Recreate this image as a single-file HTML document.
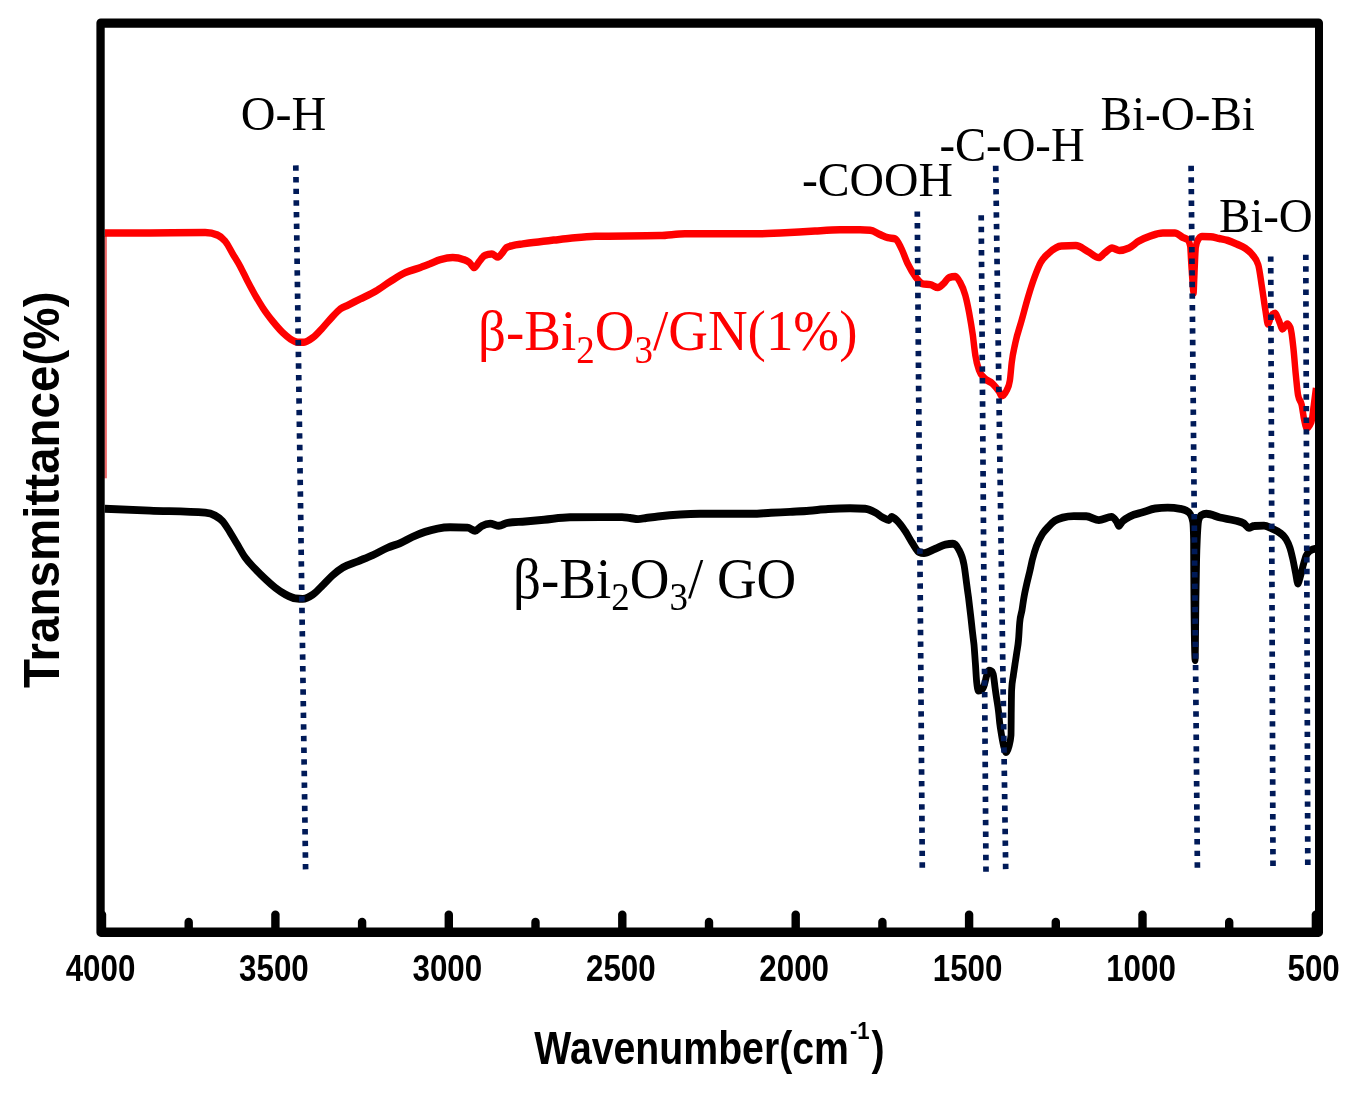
<!DOCTYPE html>
<html lang="en"><head><meta charset="utf-8"><title>FTIR spectra</title>
<style>
html,body{margin:0;padding:0;background:#fff}
body{width:1358px;height:1098px;overflow:hidden}
svg{display:block}
.ser{font-family:"Liberation Serif",serif}
.san{font-family:"Liberation Sans",sans-serif;font-weight:bold}
</style></head><body>
<svg width="1358" height="1098" viewBox="0 0 1358 1098">
<rect width="1358" height="1098" fill="#fff"/>
<line x1="105.6" y1="236" x2="105.6" y2="478.3" stroke="#ee6a6a" stroke-width="2.6"/>
<g transform="scale(0.86 1)" fill="none" stroke-linejoin="round" stroke-linecap="butt">
<path d="M121.7 233.1C139.3 233.1 156.9 233.1 174.4 233.0C195.8 232.9 217.2 232.6 238.6 232.6C243.4 232.6 248.3 233.4 253.1 235.1C256.0 236.1 259.0 238.2 261.9 241.3C264.8 244.4 267.7 249.6 270.6 253.8C273.5 258.0 276.4 261.8 279.3 266.4C282.2 271.0 285.1 276.6 288.0 281.4C290.9 286.2 293.8 290.8 296.7 295.2C299.7 299.6 302.6 303.9 305.5 307.7C309.4 312.9 313.3 317.2 317.2 321.4C321.1 325.5 325.0 329.5 328.8 332.7C331.7 335.1 334.7 337.4 337.6 339.0C340.5 340.6 343.4 342.2 346.3 342.2C348.7 342.2 351.1 342.2 353.5 342.2C356.9 342.2 360.3 339.9 363.7 337.7C367.6 335.2 371.5 331.2 375.3 327.7C379.2 324.1 383.1 319.9 387.0 316.4C389.9 313.7 392.9 310.8 395.8 308.9C398.7 307.1 401.6 306.4 404.5 305.2C409.4 303.1 414.2 301.0 419.1 298.9C424.9 296.4 430.7 294.3 436.5 291.4C442.3 288.5 448.1 284.5 454.0 281.4C459.8 278.3 465.7 274.9 471.5 272.6C477.3 270.3 483.1 269.4 489.0 267.5C492.6 266.3 496.3 265.0 500.0 263.8C504.0 262.4 508.0 260.7 512.0 259.7C516.8 258.5 521.6 257.6 526.4 257.6C530.8 257.6 535.2 258.3 539.5 259.7C541.6 260.3 543.6 261.0 545.6 262.3C547.6 263.6 549.5 267.6 551.5 267.6C553.5 267.6 555.5 263.2 557.6 261.2C559.5 259.2 561.5 256.3 563.5 255.6C566.3 254.5 569.1 254.0 572.0 254.0C574.3 254.0 576.7 257.1 579.1 257.1C580.7 257.1 582.3 254.6 584.0 253.0C585.5 251.5 587.1 248.8 588.7 247.8C591.1 246.3 593.5 246.2 595.9 245.6C599.9 244.6 603.9 244.4 607.9 243.9C611.9 243.4 615.9 242.9 619.9 242.5C623.9 242.1 627.9 241.7 631.9 241.3C635.9 240.9 639.8 240.5 643.8 240.1C650.2 239.5 656.5 238.8 662.8 238.3C672.5 237.5 682.2 236.5 691.9 236.3C717.1 235.8 742.2 236.1 767.4 235.6C777.1 235.4 786.8 233.8 796.5 233.8C824.4 233.8 852.3 233.8 880.2 233.8C889.1 233.8 898.1 233.3 907.0 233.0C914.3 232.7 921.7 232.4 929.1 232.0C935.3 231.7 941.5 231.3 947.7 231.0C957.4 230.5 967.1 229.8 976.7 229.8C984.5 229.8 992.2 229.8 1000.0 229.8C1004.0 229.8 1007.9 230.0 1011.9 230.3C1015.7 230.6 1019.6 233.2 1023.5 234.6C1026.4 235.6 1029.3 236.9 1032.2 237.6C1035.1 238.3 1038.0 238.0 1040.9 238.8C1043.4 239.5 1045.8 244.6 1048.3 248.8C1050.7 253.0 1053.1 259.6 1055.6 263.9C1058.5 269.1 1061.4 273.1 1064.3 276.4C1067.2 279.7 1070.1 283.4 1073.0 283.9C1075.9 284.4 1078.8 284.1 1081.7 284.6C1084.7 285.1 1087.6 287.6 1090.5 287.6C1092.9 287.6 1095.3 285.0 1097.7 283.1C1099.6 281.5 1101.6 278.2 1103.5 277.6C1105.9 276.8 1108.4 276.4 1110.8 276.4C1112.8 276.4 1114.7 279.5 1116.6 282.6C1118.6 285.7 1120.5 289.0 1122.4 295.2C1123.9 299.9 1125.4 305.9 1126.9 312.7C1128.3 319.3 1129.7 326.3 1131.2 335.2C1132.1 341.2 1133.1 349.9 1134.1 355.2C1135.5 363.3 1137.0 366.6 1138.5 370.3C1140.4 375.1 1142.4 375.8 1144.3 377.8C1147.7 381.4 1151.1 381.0 1154.5 384.0C1156.9 386.1 1159.3 388.4 1161.7 391.6C1162.7 392.9 1163.7 395.8 1164.7 395.8C1166.6 395.8 1168.6 394.0 1170.6 390.3C1171.8 388.0 1173.1 387.0 1174.3 380.3C1175.0 376.5 1175.7 367.8 1176.4 362.8C1177.8 352.5 1179.3 348.6 1180.7 342.7C1183.1 332.7 1185.6 327.8 1188.0 320.2C1190.4 312.8 1192.8 304.7 1195.2 297.7C1197.8 290.3 1200.3 283.3 1202.9 277.3C1205.3 271.7 1207.7 266.3 1210.1 262.5C1213.2 257.6 1216.2 255.8 1219.3 253.3C1224.3 249.3 1229.2 246.2 1234.2 246.0C1239.8 245.7 1245.4 245.6 1251.0 245.6C1255.7 245.6 1260.4 249.5 1265.1 251.6C1269.3 253.5 1273.5 257.6 1277.7 257.6C1280.0 257.6 1282.4 254.3 1284.8 252.8C1287.6 251.0 1290.3 248.0 1293.1 248.0C1296.0 248.0 1298.8 250.4 1301.6 250.4C1305.3 250.4 1309.1 249.5 1312.8 248.0C1316.6 246.5 1320.3 243.1 1324.1 241.2C1328.8 238.8 1333.4 237.3 1338.1 235.9C1342.8 234.5 1347.5 233.0 1352.2 233.0C1356.9 233.0 1361.5 233.0 1366.2 233.0C1369.3 233.0 1372.4 236.2 1375.5 237.5C1377.2 238.2 1379.0 238.2 1380.8 239.5C1381.9 240.3 1382.9 241.7 1384.0 246.0C1384.3 247.6 1384.7 256.8 1385.1 262.0C1385.6 268.2 1386.0 274.8 1386.5 280.0C1387.0 285.2 1387.4 293.0 1387.9 293.0C1388.1 293.0 1388.4 284.4 1388.6 280.0C1388.9 274.1 1389.2 267.5 1389.5 262.0C1389.8 256.5 1390.2 248.6 1390.5 247.0C1391.5 241.7 1392.6 240.2 1393.6 239.0C1395.0 237.4 1396.3 236.6 1397.7 236.6C1401.0 236.6 1404.3 236.7 1407.7 236.8C1411.0 236.9 1414.3 237.9 1417.7 238.5C1421.0 239.1 1424.4 239.6 1427.8 240.5C1431.1 241.4 1434.5 242.7 1437.8 244.0C1441.2 245.3 1444.5 246.2 1447.9 248.3C1450.6 250.0 1453.3 251.4 1456.0 254.5C1458.4 257.2 1460.8 258.0 1463.1 264.9C1464.5 269.0 1465.9 278.9 1467.3 286.6C1468.7 294.2 1470.1 303.6 1471.5 310.8C1472.4 315.6 1473.4 324.1 1474.3 324.1C1475.7 324.1 1477.1 317.2 1478.5 315.6C1479.9 314.0 1481.4 313.2 1482.8 313.2C1484.2 313.2 1485.6 317.8 1487.0 320.4C1488.4 323.0 1489.8 328.9 1491.2 328.9C1493.0 328.9 1494.9 324.1 1496.7 324.1C1498.0 324.1 1499.2 325.3 1500.5 327.7C1501.6 329.9 1502.7 338.2 1503.8 347.0C1504.8 354.3 1505.7 365.5 1506.6 373.6C1507.6 381.6 1508.5 391.0 1509.4 395.3C1510.8 401.8 1512.2 399.4 1513.6 405.0C1514.5 408.8 1515.5 415.7 1516.4 419.5C1517.3 423.3 1518.3 427.9 1519.2 427.9C1521.1 427.9 1523.0 425.9 1524.9 421.9C1525.8 419.9 1526.7 410.9 1527.7 405.0C1528.5 399.6 1529.4 393.8 1530.2 388.0" stroke="#fe0000" stroke-width="7.5"/>
<path d="M121.7 508.8C139.3 509.4 156.9 510.0 174.4 510.6C195.8 511.3 217.2 511.3 238.6 512.6C242.5 512.8 246.4 513.7 250.2 515.6C253.1 517.0 256.0 518.5 259.0 521.3C261.9 524.1 264.8 528.6 267.7 532.6C270.6 536.6 273.5 540.9 276.4 545.1C279.3 549.3 282.2 554.0 285.1 557.6C289.0 562.4 292.9 565.4 296.7 568.9C300.6 572.4 304.5 575.8 308.4 578.9C312.3 582.1 316.2 585.1 320.1 587.7C324.0 590.3 327.9 592.6 331.7 594.4C335.6 596.2 339.5 598.0 343.4 598.4C346.3 598.7 349.2 598.9 352.1 598.9C356.0 598.9 359.8 597.0 363.7 594.7C367.6 592.4 371.5 588.5 375.3 585.2C379.2 582.0 383.1 578.1 387.0 575.2C390.9 572.2 394.8 569.7 398.7 567.6C404.5 564.5 410.3 563.5 416.2 561.4C422.0 559.3 427.8 557.4 433.6 555.1C439.4 552.8 445.2 549.7 451.0 547.6C455.7 545.9 460.4 544.9 465.1 543.2C470.0 541.4 474.8 538.8 479.7 536.9C484.5 535.0 489.3 533.3 494.2 531.9C499.1 530.5 504.0 529.4 508.8 528.6C513.6 527.8 518.4 527.3 523.3 527.3C530.1 527.3 536.9 527.4 543.7 527.6C546.6 527.7 549.5 530.7 552.4 530.7C554.9 530.7 557.3 527.4 559.8 526.3C563.1 524.7 566.5 523.6 569.9 523.6C573.3 523.6 576.7 525.7 580.1 525.7C583.5 525.7 586.9 523.2 590.3 522.8C597.1 521.9 603.9 522.0 610.7 521.5C618.0 521.0 625.3 520.4 632.6 519.8C642.6 519.0 652.7 517.4 662.8 517.3C674.4 517.2 686.0 517.1 697.7 517.1C706.2 517.1 714.7 517.1 723.3 517.1C726.4 517.1 729.5 517.7 732.6 518.0C735.7 518.3 738.8 519.1 741.9 519.1C745.0 519.1 748.1 518.4 751.2 518.0C755.8 517.5 760.5 516.9 765.1 516.5C781.4 514.9 797.7 513.8 814.0 513.8C834.1 513.8 854.3 513.8 874.4 513.8C881.8 513.8 889.1 513.1 896.5 512.8C903.9 512.5 911.2 512.2 918.6 511.9C926.0 511.5 933.3 511.2 940.7 510.7C948.1 510.2 955.4 509.4 962.8 509.0C971.3 508.5 979.8 508.2 988.4 508.2C994.3 508.2 1000.2 508.4 1006.0 508.8C1009.9 509.1 1013.8 510.7 1017.7 512.5C1020.6 513.8 1023.5 516.2 1026.4 517.5C1028.8 518.6 1031.3 520.0 1033.7 520.0C1034.7 520.0 1035.7 517.0 1036.6 517.0C1039.0 517.0 1041.4 519.3 1043.8 521.3C1046.8 523.8 1049.7 527.5 1052.7 531.3C1055.6 535.0 1058.5 540.1 1061.4 543.8C1063.8 546.9 1066.2 551.3 1068.6 552.1C1070.5 552.8 1072.5 553.1 1074.4 553.1C1078.8 553.1 1083.2 550.3 1087.6 548.8C1091.4 547.5 1095.3 545.3 1099.2 544.6C1102.1 544.1 1105.0 543.8 1107.9 543.8C1110.3 543.8 1112.8 545.9 1115.2 550.1C1117.2 553.4 1119.1 555.4 1121.0 565.1C1122.1 570.4 1123.1 578.3 1124.2 585.0C1124.8 589.2 1125.5 593.2 1126.2 597.6C1127.0 603.1 1127.8 608.9 1128.6 615.0C1129.5 621.4 1130.3 628.7 1131.2 635.0C1131.6 638.4 1132.1 640.7 1132.6 645.0C1133.1 650.0 1133.6 657.1 1134.2 663.7C1134.7 669.3 1135.1 677.4 1135.6 681.4C1136.3 687.5 1137.0 690.5 1137.7 690.5C1138.7 690.5 1139.7 690.3 1140.7 690.0C1142.0 689.6 1143.3 688.2 1144.5 685.0C1145.5 682.7 1146.4 677.9 1147.3 675.5C1148.2 673.2 1149.1 670.8 1150.0 670.8C1151.0 670.8 1151.9 671.0 1152.9 671.5C1153.6 671.8 1154.2 672.4 1154.9 674.3C1155.6 676.3 1156.3 683.0 1157.0 687.3C1157.6 691.3 1158.3 695.4 1159.0 699.2C1159.7 703.3 1160.3 705.9 1161.0 711.0C1161.5 714.4 1162.0 719.4 1162.4 722.8C1163.1 727.9 1163.8 731.1 1164.5 734.7C1165.4 739.3 1166.3 743.6 1167.2 746.5C1168.1 749.3 1168.9 752.0 1169.8 752.0C1170.9 752.0 1172.1 750.0 1173.3 746.0C1174.0 743.3 1174.8 742.3 1175.6 735.0C1175.7 733.9 1175.8 718.5 1175.9 711.0C1176.0 703.5 1176.2 691.7 1176.3 690.0C1176.9 680.3 1177.6 679.8 1178.3 675.5C1179.0 671.0 1179.7 667.7 1180.3 663.7C1181.0 659.8 1181.7 656.0 1182.4 651.8C1183.1 648.1 1183.7 646.1 1184.3 640.0C1184.8 635.4 1185.2 627.0 1185.7 622.6C1186.6 614.2 1187.5 614.6 1188.4 610.0C1189.1 606.2 1189.8 601.3 1190.6 597.6C1191.6 592.6 1192.6 588.9 1193.6 585.0C1194.8 580.5 1195.9 576.8 1197.1 572.5C1198.2 568.5 1199.3 563.7 1200.3 560.0C1201.9 554.6 1203.4 550.3 1205.0 546.5C1207.4 540.6 1209.8 537.2 1212.2 533.8C1214.7 530.4 1217.1 528.5 1219.5 526.3C1221.9 524.1 1224.3 522.1 1226.7 520.7C1229.7 519.0 1232.6 518.3 1235.5 517.6C1239.8 516.6 1244.2 516.1 1248.6 516.1C1253.4 516.1 1258.3 516.2 1263.1 516.3C1268.0 516.4 1272.9 520.1 1277.8 520.1C1282.6 520.1 1287.5 516.9 1292.3 516.9C1294.3 516.9 1296.2 518.9 1298.1 521.3C1299.1 522.5 1300.1 525.7 1301.0 525.7C1302.5 525.7 1303.9 522.6 1305.3 521.3C1308.3 518.8 1311.2 517.6 1314.1 516.3C1319.0 514.0 1323.8 513.6 1328.7 512.3C1333.6 511.0 1338.4 509.1 1343.3 508.5C1348.1 507.9 1352.9 507.6 1357.8 507.6C1362.6 507.6 1367.5 508.0 1372.3 508.8C1374.8 509.2 1377.2 509.5 1379.7 510.8C1381.2 511.6 1382.8 512.0 1384.3 514.5C1385.2 515.9 1386.1 517.0 1387.0 522.0C1387.3 523.7 1387.6 528.0 1387.9 540.0C1388.0 544.5 1388.1 590.0 1388.3 600.0C1388.7 640.0 1389.2 660.0 1389.7 660.0C1389.8 660.0 1390.0 650.0 1390.1 640.0C1390.3 630.0 1390.4 611.3 1390.6 600.0C1390.9 580.3 1391.1 570.3 1391.4 560.0C1391.7 546.7 1392.1 541.3 1392.4 535.0C1392.9 527.3 1393.3 522.7 1393.7 521.0C1394.7 517.3 1395.6 516.0 1396.5 515.5C1398.6 514.4 1400.6 513.8 1402.7 513.8C1408.0 513.8 1413.3 516.4 1418.6 517.5C1424.4 518.7 1430.2 519.1 1436.0 520.5C1439.5 521.4 1443.0 521.5 1446.5 523.5C1448.4 524.6 1450.4 527.8 1452.3 527.8C1454.3 527.8 1456.2 526.1 1458.1 526.0C1462.0 525.7 1465.9 525.6 1469.8 525.6C1472.9 525.6 1476.0 527.4 1479.1 528.6C1482.2 529.8 1485.3 530.8 1488.4 533.0C1490.7 534.6 1493.0 535.5 1495.3 539.0C1496.9 541.3 1498.4 543.7 1500.0 548.0C1501.2 551.2 1502.3 555.5 1503.5 560.0C1504.5 563.9 1505.5 568.8 1506.5 573.0C1507.4 576.6 1508.2 583.5 1509.1 583.5C1509.9 583.5 1510.8 580.3 1511.6 578.0C1512.8 574.9 1514.0 569.7 1515.1 566.0C1516.3 562.3 1517.4 558.5 1518.6 556.0C1520.2 552.7 1521.7 551.5 1523.3 550.6C1525.6 549.3 1527.9 548.9 1530.2 548.6" stroke="#000" stroke-width="7.9"/>
</g>
<g stroke="#001a58" stroke-width="5.7" fill="none">
<line x1="295.8" y1="165.4" x2="305.6" y2="869.4" stroke-dasharray="5.400 6.244"/>
<line x1="917.3" y1="211.4" x2="922.3" y2="867.7" stroke-dasharray="5.400 6.224"/>
<line x1="981.2" y1="215.2" x2="986.0" y2="871.8" stroke-dasharray="5.400 6.229"/>
<line x1="995.7" y1="165.7" x2="1005.7" y2="869.1" stroke-dasharray="5.400 6.235"/>
<line x1="1191.1" y1="165.7" x2="1197.4" y2="867.7" stroke-dasharray="5.400 6.210"/>
<line x1="1270.7" y1="256.4" x2="1273.0" y2="866.0" stroke-dasharray="5.400 6.219"/>
<line x1="1305.8" y1="254.7" x2="1307.8" y2="865.0" stroke-dasharray="5.400 6.233"/>
</g>
<path fill="#000" fill-rule="evenodd" d="M100.8 18.4H1318.6A4.4 4.4 0 0 1 1323 22.8V932.5A4.4 4.4 0 0 1 1318.6 936.9H100.8A4.4 4.4 0 0 1 96.4 932.5V22.8A4.4 4.4 0 0 1 100.8 18.4ZM104.7 27.7V927.5H1315V27.7Z"/>
<g stroke="#000" stroke-linecap="round" fill="none">
<line x1="102.0" y1="914.6" x2="102.0" y2="930" stroke-width="8.4"/>
<line x1="188.7" y1="922.0" x2="188.7" y2="930" stroke-width="8.4"/>
<line x1="275.4" y1="914.6" x2="275.4" y2="930" stroke-width="8.4"/>
<line x1="362.1" y1="922.0" x2="362.1" y2="930" stroke-width="8.4"/>
<line x1="448.8" y1="914.6" x2="448.8" y2="930" stroke-width="8.4"/>
<line x1="535.5" y1="922.0" x2="535.5" y2="930" stroke-width="8.4"/>
<line x1="622.3" y1="914.6" x2="622.3" y2="930" stroke-width="8.4"/>
<line x1="709.0" y1="922.0" x2="709.0" y2="930" stroke-width="8.4"/>
<line x1="795.7" y1="914.6" x2="795.7" y2="930" stroke-width="8.4"/>
<line x1="882.4" y1="922.0" x2="882.4" y2="930" stroke-width="8.4"/>
<line x1="969.1" y1="914.6" x2="969.1" y2="930" stroke-width="8.4"/>
<line x1="1055.8" y1="922.0" x2="1055.8" y2="930" stroke-width="8.4"/>
<line x1="1142.5" y1="914.6" x2="1142.5" y2="930" stroke-width="8.4"/>
<line x1="1229.2" y1="922.0" x2="1229.2" y2="930" stroke-width="8.4"/>
<line x1="1315.9" y1="914.6" x2="1315.9" y2="930" stroke-width="8.4"/>
</g>
<g class="san" font-size="37" text-anchor="middle" fill="#000">
<text transform="translate(100.5 980.8) scale(.847 1)">4000</text>
<text transform="translate(273.9 980.8) scale(.847 1)">3500</text>
<text transform="translate(447.3 980.8) scale(.847 1)">3000</text>
<text transform="translate(620.8 980.8) scale(.847 1)">2500</text>
<text transform="translate(794.2 980.8) scale(.847 1)">2000</text>
<text transform="translate(967.6 980.8) scale(.847 1)">1500</text>
<text transform="translate(1141.0 980.8) scale(.847 1)">1000</text>
<text transform="translate(1313.6 980.8) scale(.847 1)">500</text>
</g>
<text class="san" font-size="46" transform="translate(534.3 1064.4) scale(.853 1)" fill="#000">Wavenumber(cm</text>
<text class="san" font-size="24.6" transform="translate(850 1038.7) scale(.9 1)" fill="#000">-1</text>
<text class="san" font-size="46" transform="translate(871.5 1064.4) scale(.853 1)" fill="#000">)</text>
<text class="san" font-size="50.5" transform="translate(58.8 688) rotate(-90)" fill="#000" textLength="396.5" lengthAdjust="spacingAndGlyphs">Transmittance(%)</text>
<g class="ser" font-size="49" fill="#000">
<text transform="translate(240.7 129.6) scale(0.982 1)">O-H</text>
<text transform="translate(801.9 196.2) scale(0.974 1)">-COOH</text>
<text transform="translate(939.4 161.3) scale(0.953 1)">-C-O-H</text>
<text transform="translate(1100.5 129.5) scale(0.962 1)">Bi-O-Bi</text>
<text transform="translate(1218.9 232) scale(0.958 1)">Bi-O</text>
</g>
<text class="ser" font-size="58" transform="translate(478 350.2) scale(.948 1)" fill="#fe0000">β-Bi<tspan font-size="39" dy="12.5">2</tspan><tspan dy="-12.5">O</tspan><tspan font-size="39" dy="12.5">3</tspan><tspan dy="-12.5">/GN(1%)</tspan></text>
<text class="ser" font-size="58" transform="translate(513 597.7) scale(.948 1)" fill="#000">β-Bi<tspan font-size="39" dy="12.5">2</tspan><tspan dy="-12.5">O</tspan><tspan font-size="39" dy="12.5">3</tspan><tspan dy="-12.5">/ GO</tspan></text>
</svg>
</body></html>
